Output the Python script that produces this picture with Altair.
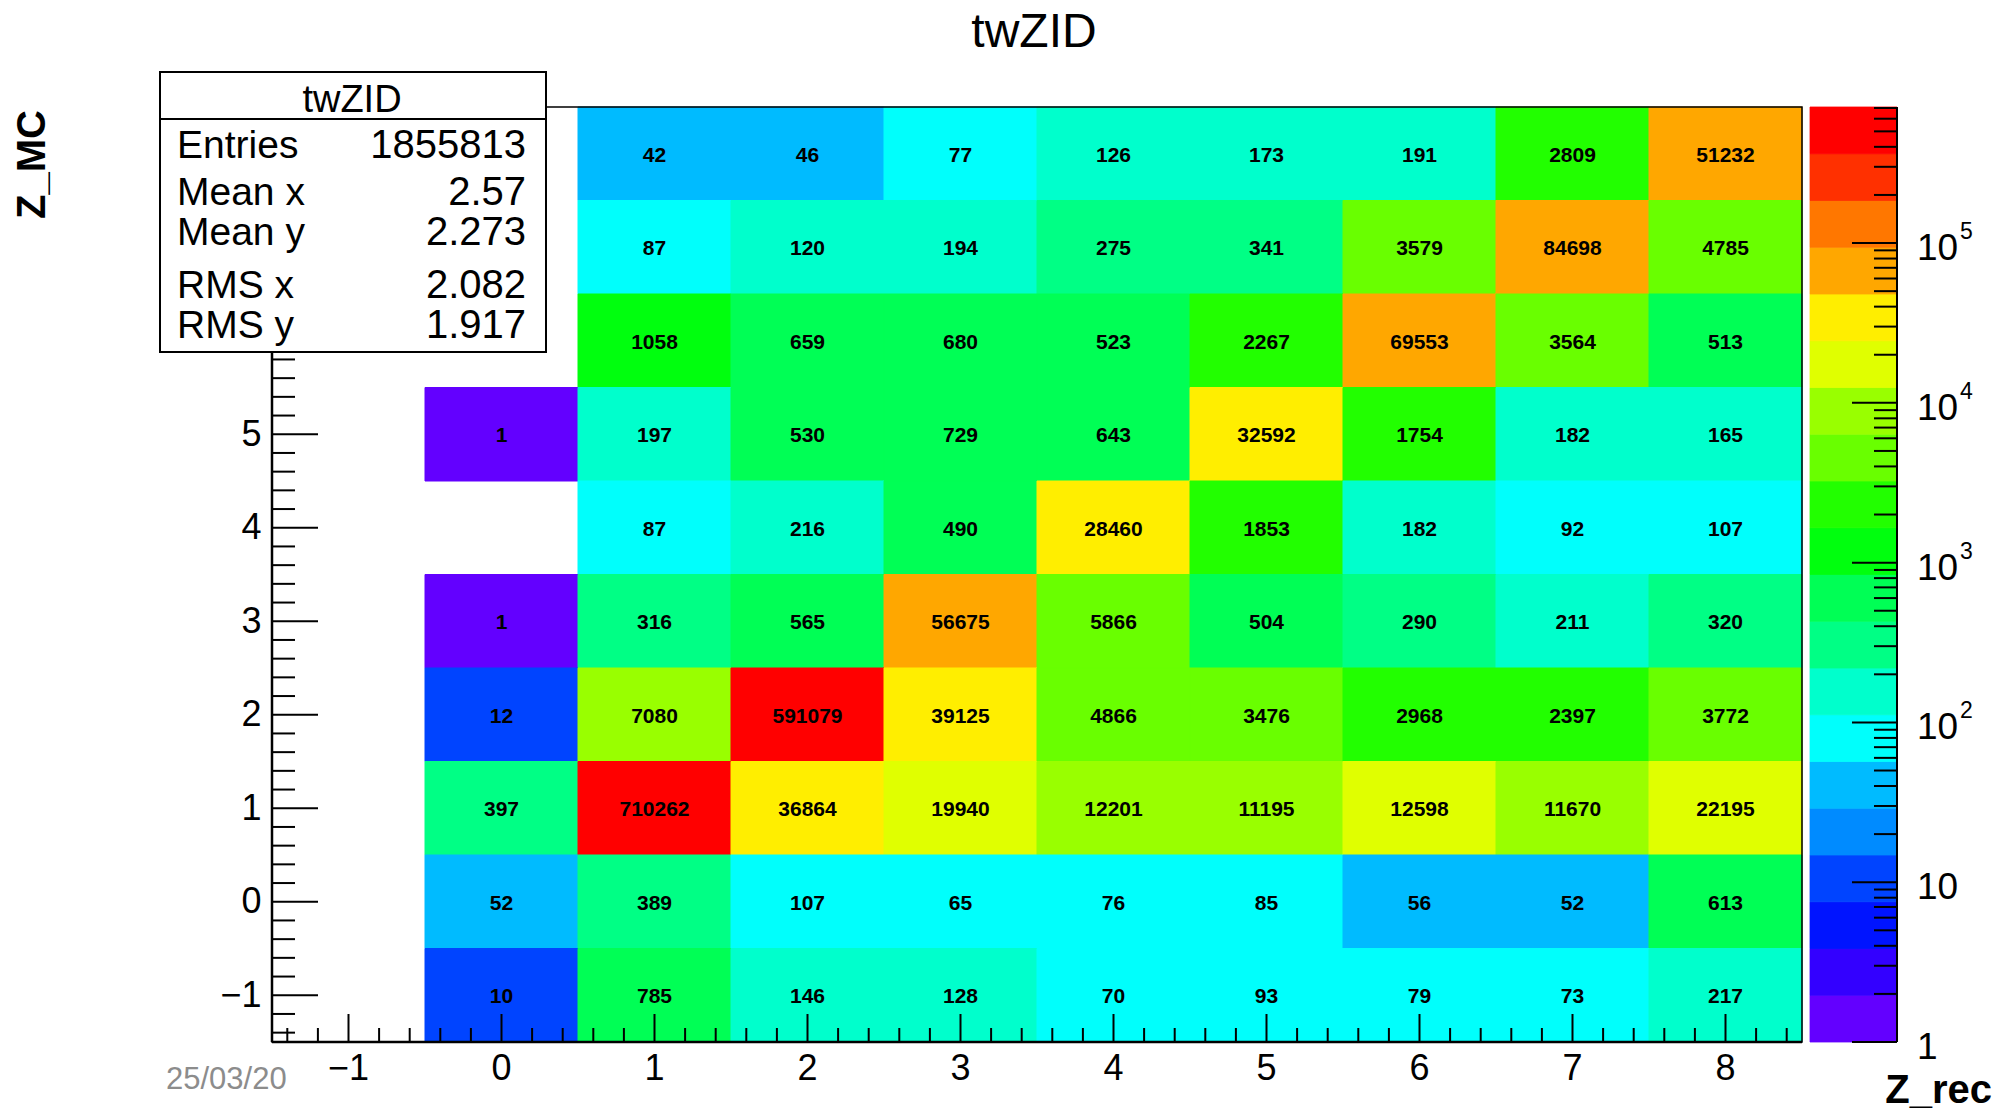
import altair as alt
import pandas as pd

# ---------------- data ----------------
x_bins = [0, 1, 2, 3, 4, 5, 6, 7, 8]
y_bins = [8, 7, 6, 5, 4, 3, 2, 1, 0, -1]
row_y8 = [None, 42, 46, 77, 126, 173, 191, 2809, 51232]
row_y7 = [None, 87, 120, 194, 275, 341, 3579, 84698, 4785]
row_y6 = [None, 1058, 659, 680, 523, 2267, 69553, 3564, 513]
row_y5 = [1, 197, 530, 729, 643, 32592, 1754, 182, 165]
row_y4 = [None, 87, 216, 490, 28460, 1853, 182, 92, 107]
row_y3 = [1, 316, 565, 56675, 5866, 504, 290, 211, 320]
row_y2 = [12, 7080, 591079, 39125, 4866, 3476, 2968, 2397, 3772]
row_y1 = [397, 710262, 36864, 19940, 12201, 11195, 12598, 11670, 22195]
row_y0 = [52, 389, 107, 65, 76, 85, 56, 52, 613]
row_ym1 = [10, 785, 146, 128, 70, 93, 79, 73, 217]
counts = [row_y8, row_y7, row_y6, row_y5, row_y4, row_y3, row_y2, row_y1, row_y0, row_ym1]

axis_ticks = [-1, 0, 1, 2, 3, 4, 5, 6, 7, 8]
x_label_values = [-1, 0, 1, 2, 3, 4, 5, 6, 7, 8]
y_label_values = [-1, 0, 1, 2, 3, 4, 5, 6]   # 7 and 8 are hidden under the stats box
z_min = 1
z_max = 710262
n_levels = 20
palette = ["#6300FF", "#3300FF", "#0014FF", "#0044FF", "#008BFF", "#00BBFF",
           "#00FFFC", "#00FFCC", "#00FF85", "#00FF55", "#00FF0E", "#22FF00",
           "#69FF00", "#99FF00", "#E0FF00", "#FFEE00", "#FFA700", "#FF7700",
           "#FF3000", "#FF0000"]
cb_major = [1, 10, 100, 1000, 10000, 100000]
cb_base = ["1", "10", "10", "10", "10", "10"]
cb_exp = ["", "", "2", "3", "4", "5"]

chart_title = "twZID"
stats_title = "twZID"
stats_labels = ["Entries", "Mean x", "Mean y", "RMS x", "RMS y"]
stats_values = ["1855813", "2.57", "2.273", "2.082", "1.917"]
x_title = "Z_rec"
y_title = "Z_MC"
date_text = "25/03/20"

# ---------------- tables ----------------
cell_rows = []
for yv, row in zip(y_bins, counts):
    for xv, c in zip(x_bins, row):
        if c is not None:
            cell_rows.append({"x": xv - 0.5, "x2": xv + 0.5, "xc": xv,
                              "y": yv - 0.5, "y2": yv + 0.5, "yc": yv, "n": c})
cells = pd.DataFrame(cell_rows)

minor = [round(-1.4 + 0.2 * i, 1) for i in range(50)]
minor = [m for m in minor if abs(m - round(m)) > 1e-6]
maj_df = pd.DataFrame({"t": axis_ticks})
min_df = pd.DataFrame({"t": minor})
xlab_df = pd.DataFrame({"t": x_label_values})

bands = pd.DataFrame({
    "lo": [z_max ** (k / n_levels) for k in range(n_levels)],
    "hi": [z_max ** ((k + 1) / n_levels) for k in range(n_levels)],
    "mid": [z_max ** ((k + 0.5) / n_levels) for k in range(n_levels)],
})
thresholds = [z_max ** (k / n_levels) for k in range(1, n_levels)]
cb_minor = [m * 10 ** k for k in range(6) for m in range(2, 10) if m * 10 ** k < z_max]
cbmaj_df = pd.DataFrame({"v": cb_major, "base": cb_base, "exp": cb_exp})
cbmin_df = pd.DataFrame({"v": cb_minor})
one = pd.DataFrame({"k": [0]})

# ---------------- layout ----------------
W, H = 1530, 935
FONT = "Liberation Sans"

xs = alt.Scale(domain=[-1.5, 8.5], nice=False, zero=False)
ys = alt.Scale(domain=[-1.5, 8.5], nice=False, zero=False)
zs = alt.Scale(type="log", domain=[z_min, z_max], nice=False)
cs = alt.Scale(type="threshold", domain=thresholds, range=palette)

y_axis = alt.Axis(values=y_label_values, format="d", ticks=False, tickSize=0, domain=False,
                  grid=False, labelFont=FONT, labelFontSize=36, labelColor="black",
                  labelPadding=11, labelFlush=False, title=None)

heat = alt.Chart(cells).mark_rect(strokeWidth=1).encode(
    x=alt.X("x:Q", scale=xs, axis=None), x2="x2:Q",
    y=alt.Y("y:Q", scale=ys, axis=y_axis), y2="y2:Q",
    color=alt.Color("n:Q", scale=cs, legend=None),
    stroke=alt.Stroke("n:Q", scale=cs, legend=None),
)
cell_text = alt.Chart(cells).mark_text(font=FONT, fontWeight="bold", fontSize=21,
                                       baseline="alphabetic", dy=8, color="black").encode(
    x=alt.X("xc:Q", scale=xs, axis=None),
    y=alt.Y("yc:Q", scale=ys, axis=None),
    text=alt.Text("n:Q", format="d"),
)
frame = alt.Chart(one).mark_rect(filled=False, stroke="black", strokeWidth=1.5).encode(
    x=alt.value(0), x2=alt.value(W), y=alt.value(0), y2=alt.value(H))

xt_major = alt.Chart(maj_df).mark_rule(color="black", strokeWidth=2).encode(
    x=alt.X("t:Q", scale=xs, axis=None), y=alt.value(H), y2=alt.value(H - 28))
xt_minor = alt.Chart(min_df).mark_rule(color="black", strokeWidth=2).encode(
    x=alt.X("t:Q", scale=xs, axis=None), y=alt.value(H), y2=alt.value(H - 14))
yt_major = alt.Chart(maj_df).mark_rule(color="black", strokeWidth=2).encode(
    y=alt.Y("t:Q", scale=ys, axis=None), x=alt.value(0), x2=alt.value(46))
yt_minor = alt.Chart(min_df).mark_rule(color="black", strokeWidth=2).encode(
    y=alt.Y("t:Q", scale=ys, axis=None), x=alt.value(0), x2=alt.value(23))
x_line = alt.Chart(one).mark_rule(color="black", strokeWidth=2.5).encode(
    x=alt.value(0), x2=alt.value(W), y=alt.value(H))
y_line = alt.Chart(one).mark_rule(color="black", strokeWidth=2.5).encode(
    x=alt.value(0), y=alt.value(0), y2=alt.value(H))
x_labels = alt.Chart(xlab_df).mark_text(font=FONT, fontSize=36, align="center",
                                        baseline="alphabetic", color="black").encode(
    x=alt.X("t:Q", scale=xs, axis=None), y=alt.value(H + 38),
    text=alt.Text("t:Q", format="d"))

# stats box
SB_L, SB_R, SB_T, SB_B = -112, 274, -35, 245
stats_box = alt.Chart(one).mark_rect(fill="white", stroke="black", strokeWidth=2).encode(
    x=alt.value(SB_L), x2=alt.value(SB_R), y=alt.value(SB_T), y2=alt.value(SB_B))
stats_sep = alt.Chart(one).mark_rule(color="black", strokeWidth=2).encode(
    x=alt.value(SB_L), x2=alt.value(SB_R), y=alt.value(12))
stats_head = alt.Chart(one).mark_text(text=stats_title, font=FONT, fontSize=38, align="center",
                                      baseline="alphabetic", color="black").encode(
    x=alt.value(80), y=alt.value(5))
stat_layers = []
row_base = [51, 98, 138, 191, 231]
for lab, val, yb in zip(stats_labels, stats_values, row_base):
    stat_layers.append(alt.Chart(one).mark_text(text=lab, font=FONT, fontSize=39, align="left",
                                                baseline="alphabetic", color="black").encode(
        x=alt.value(-95), y=alt.value(yb)))
    stat_layers.append(alt.Chart(one).mark_text(text=val, font=FONT, fontSize=40, align="right",
                                                baseline="alphabetic", color="black").encode(
        x=alt.value(254), y=alt.value(yb)))

# colour bar
CB_L, CB_R = 1538, 1625
cb_rect = alt.Chart(bands).mark_rect(strokeWidth=0.8).encode(
    x=alt.value(CB_L), x2=alt.value(CB_R),
    y=alt.Y("lo:Q", scale=zs, axis=None), y2="hi:Q",
    color=alt.Color("mid:Q", scale=cs, legend=None),
    stroke=alt.Stroke("mid:Q", scale=cs, legend=None),
)
cb_line = alt.Chart(one).mark_rule(color="black", strokeWidth=2).encode(
    x=alt.value(CB_R), y=alt.value(0), y2=alt.value(H))
cb_tmaj = alt.Chart(cbmaj_df).mark_rule(color="black", strokeWidth=2).encode(
    y=alt.Y("v:Q", scale=zs, axis=None), x=alt.value(CB_R - 45), x2=alt.value(CB_R))
cb_tmin = alt.Chart(cbmin_df).mark_rule(color="black", strokeWidth=2).encode(
    y=alt.Y("v:Q", scale=zs, axis=None), x=alt.value(CB_R - 23), x2=alt.value(CB_R))
cb_lab = alt.Chart(cbmaj_df).mark_text(font=FONT, fontSize=37, align="left",
                                       baseline="alphabetic", dy=17, color="black").encode(
    y=alt.Y("v:Q", scale=zs, axis=None), x=alt.value(1645), text="base:N")
cb_expo = alt.Chart(cbmaj_df).mark_text(font=FONT, fontSize=23, align="left",
                                        baseline="alphabetic", dy=-4, color="black").encode(
    y=alt.Y("v:Q", scale=zs, axis=None), x=alt.value(1688), text="exp:N")

# titles
title_t = alt.Chart(one).mark_text(text=chart_title, font=FONT, fontSize=48, align="center",
                                   baseline="alphabetic", color="black").encode(
    x=alt.value(762), y=alt.value(-60))
ytitle_t = alt.Chart(one).mark_text(text=y_title, font=FONT, fontSize=40, fontWeight="bold",
                                    angle=270, align="right", baseline="alphabetic",
                                    color="black").encode(
    x=alt.value(-227), y=alt.value(3))
xtitle_t = alt.Chart(one).mark_text(text=x_title, font=FONT, fontSize=40, fontWeight="bold",
                                    align="right", baseline="alphabetic", color="black").encode(
    x=alt.value(1720), y=alt.value(996))
date_t = alt.Chart(one).mark_text(text=date_text, font=FONT, fontSize=31, align="left",
                                  baseline="alphabetic", color="#8c8c8c").encode(
    x=alt.value(-106), y=alt.value(982))

chart = alt.layer(
    heat, cell_text, frame, xt_major, xt_minor, yt_major, yt_minor, x_line, y_line, x_labels,
    stats_box, stats_sep, stats_head, *stat_layers,
    cb_rect, cb_line, cb_tmaj, cb_tmin, cb_lab, cb_expo,
    title_t, ytitle_t, xtitle_t, date_t,
).resolve_scale(y="independent").properties(
    width=W, height=H,
    padding={"left": 272, "top": 107, "right": 193, "bottom": 73},
    autosize=alt.AutoSizeParams(type="none"),
    background="white",
).configure_view(stroke=None)

chart.save("out.html", embed_options={"renderer": "svg", "actions": False})
